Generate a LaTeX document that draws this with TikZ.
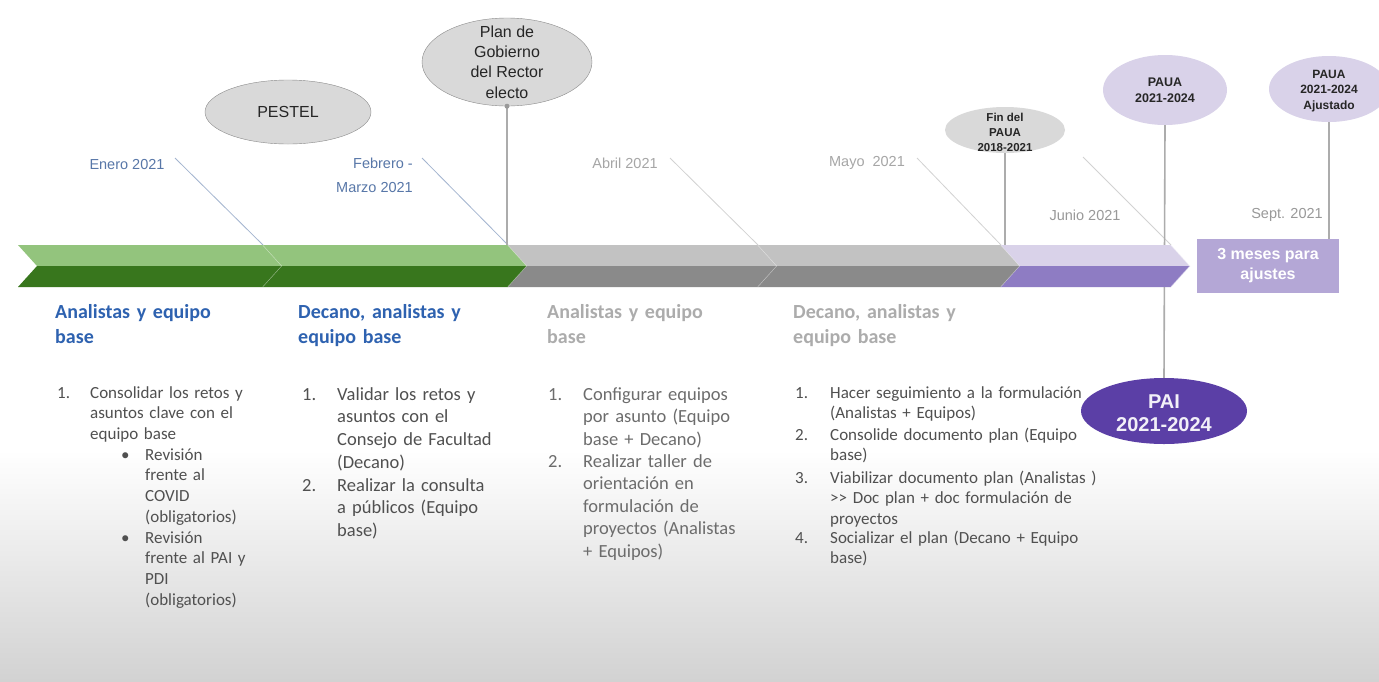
\documentclass[tikz,border=0pt]{standalone}
\usepackage{fontspec}
\setmainfont{Carlito}
\newfontfamily\arialf{Liberation Sans}
\usetikzlibrary{shapes.geometric}

\definecolor{greenL}{HTML}{93C47D}
\definecolor{greenD}{HTML}{38761D}
\definecolor{grayL}{HTML}{C2C2C2}
\definecolor{grayD}{HTML}{8A8A8A}
\definecolor{purpL}{HTML}{D9D2E9}
\definecolor{purpD}{HTML}{8E7CC3}
\definecolor{boxP}{HTML}{B4A7D6}
\definecolor{paiP}{HTML}{5B3FA6}
\definecolor{ovalG}{HTML}{D9D9D9}
\definecolor{titleB}{HTML}{2E62B0}
\definecolor{dateB}{HTML}{5877A8}
\definecolor{txtG}{HTML}{505050}
\definecolor{txtL}{HTML}{6C6C6C}
\definecolor{bgG}{HTML}{D2D2D2}

% one piece of the time band: from x #1 to corner x #2, light and dark colour
\newcommand{\tlseg}[4]{%
  \fill[#3] (#1,245) -- (#2,245) -- (#2+19,266) -- (#1+19,266) -- cycle;
  \fill[#4] (#1+19,266) -- (#2+19,266) -- (#2,287) -- (#1,287) -- cycle;
  \draw[white,opacity=.5,line width=1pt] (#2,245) -- (#2+19,266) -- (#2,287);}

\begin{document}
\begin{tikzpicture}[x=1pt,y=-1pt,
  oval/.style={ellipse,draw=grayD,fill=ovalG,inner sep=0pt},
  lavoval/.style={ellipse,fill=purpL,inner sep=0pt},
  ovaltext/.style={inner sep=0pt,align=center,text=black!85},
  datelbl/.style={inner sep=0pt,font=\arialf\fontsize{14.5}{24}\selectfont},
  datelink/.style={line width=.8pt},
  pin/.style={draw=gray!65,line width=1.6pt},
  coltitle/.style={anchor=base west,inner sep=0pt,text width=260pt,align=left,font=\bfseries\fontsize{20}{25}\selectfont},
  colnum/.style={anchor=base west,inner sep=0pt},
  coltext/.style={anchor=base west,inner sep=0pt,text width=300pt,align=left}]

\useasboundingbox (0,0) rectangle (1379,681);
\fill[white] (0,0) rectangle (1379,681);
\shade[top color=white,bottom color=bgG] (0,450) rectangle (1379,681);

% corners of the band
\coordinate (k1) at (263,245);
\coordinate (k2) at (508,245);
\coordinate (k3) at (758,245);
\coordinate (k4) at (1001,245);
\coordinate (k5) at (1171,245);

% milestones
\node[oval,minimum width=166pt,minimum height=64pt] (pestel) at (288,112) {};
\node[ovaltext,font=\arialf\fontsize{16}{20}\selectfont] at (pestel) {PESTEL};
\node[oval,minimum width=170pt,minimum height=88pt] (plan) at (507,62) {};
\node[ovaltext,font=\arialf\fontsize{16}{20.3}\selectfont] at (plan) {Plan de\\Gobierno\\del Rector\\electo};
\node[oval,draw=none,minimum width=120pt,minimum height=46pt] (finpaua) at (1005,130) {};
\node[ovaltext,font=\arialf\bfseries\fontsize{11.5}{15}\selectfont] at (1005,132) {Fin del\\PAUA\\2018-2021};
\node[lavoval,minimum width=124pt,minimum height=70pt] (paua) at (1165,90) {};
\node[ovaltext,font=\arialf\bfseries\fontsize{12.5}{16}\selectfont] at (paua) {PAUA\\2021-2024};
\node[lavoval,minimum width=120pt,minimum height=66pt] (pauaaj) at (1329,89) {};
\node[ovaltext,font=\arialf\bfseries\fontsize{12}{15.5}\selectfont] at (1329,91) {PAUA\\2021-2024\\Ajustado};
\node[ellipse,fill=paiP,inner sep=0pt,minimum width=166pt,minimum height=66pt] (pai) at (1164,411) {};
\node[ovaltext,text=white!92!paiP,font=\arialf\bfseries\fontsize{20}{23}\selectfont] at (1164,413) {PAI\\2021-2024};
\node[fill=boxP,inner sep=0pt,minimum width=142pt,minimum height=54pt] (ajustes) at (1268,266) {};
\node[ovaltext,text=white,font=\arialf\bfseries\fontsize{16}{20}\selectfont] at (ajustes) {3 meses para\\ajustes};

% dates
\node[datelbl,text=dateB] (enero) at (127,165) {Enero 2021};
\node[datelbl,text=dateB,align=right,anchor=east] (febrero) at (413,175) {Febrero -\\Marzo 2021};
\node[datelbl,text=gray!70] (abril) at (625,163) {Abril 2021};
\node[datelbl,text=gray!70] (mayo) at (867,163) {Mayo\ \ 2021};
\node[datelbl,text=gray!80] (junio) at (1085,215) {Junio 2021};
\node[datelbl,text=gray!80] (sept) at (1287,215) {Sept. 2021};

\coordinate (d1) at (175,158);
\coordinate (d2) at (422,158);
\coordinate (d3) at (670,158);
\coordinate (d4) at (917,158);
\coordinate (d5) at (1083,157);
\draw[datelink,dateB!55] (d1) -- (k1);
\draw[datelink,dateB!55] (d2) -- (k2);
\draw[datelink,gray!35] (d3) -- (k3);
\draw[datelink,gray!35] (d4) -- (k4);
\draw[datelink,gray!35] (d5) -- (k5);

% pins
\draw[pin] (plan.south) -- (plan.south |- k2);
\fill[gray!80] (plan.south) circle (2.5pt);
\draw[pin] (finpaua.south) -- (finpaua.south |- k4);
\draw[pin] (paua.south) -- (pai.north);
\draw[pin] (pauaaj.south) -- (pauaaj.south |- ajustes.north);

% band
\tlseg{18}{263}{greenL}{greenD}
\tlseg{263}{508}{greenL}{greenD}
\tlseg{508}{758}{grayL}{grayD}
\tlseg{758}{1001}{grayL}{grayD}
\tlseg{1001}{1171}{purpL}{purpD}

% column 1
\node[coltitle,text=titleB] (t1) at (55,318) {Analistas y equipo\\base};
\begin{scope}[font=\fontsize{17}{20.8}\selectfont,text=txtG]
\node[colnum] (n11) at (57,398) {1.};
\node[coltext] (c11) at (90,398) {Consolidar los retos y\\asuntos clave con el\\equipo base};
\node[colnum] (b11) at (121,460) {\textbullet};
\node[coltext] (s11) at (145,460) {Revisión\\frente al\\COVID\\(obligatorios)};
\node[colnum] (b12) at (121,543) {\textbullet};
\node[coltext] (s12) at (145,543) {Revisión\\frente al PAI y\\PDI\\(obligatorios)};
\end{scope}

% column 2
\node[coltitle,text=titleB] (t2) at (298,318) {Decano, analistas y\\equipo base};
\begin{scope}[font=\fontsize{18.5}{22.7}\selectfont,text=txtG]
\node[colnum] (n21) at (302,400) {1.};
\node[coltext] (c21) at (337,400) {Validar los retos y\\asuntos con el\\Consejo de Facultad\\(Decano)};
\node[colnum] (n22) at (302,491) {2.};
\node[coltext] (c22) at (337,491) {Realizar la consulta\\a públicos (Equipo\\base)};
\end{scope}

% column 3
\node[coltitle,text=gray!65] (t3) at (547,318) {Analistas y equipo\\base};
\begin{scope}[font=\fontsize{18.5}{22.6}\selectfont,text=txtL]
\node[colnum] (n31) at (548,400) {1.};
\node[coltext] (c31) at (583,400) {Configurar equipos\\por asunto (Equipo\\base + Decano)};
\node[colnum] (n32) at (548,467) {2.};
\node[coltext] (c32) at (583,467) {Realizar taller de\\orientación en\\formulación de\\proyectos (Analistas\\+ Equipos)};
\end{scope}

% column 4
\node[coltitle,text=gray!65] (t4) at (793,318) {Decano, analistas y\\equipo base};
\begin{scope}[font=\fontsize{17}{20.6}\selectfont,text=txtG]
\node[colnum] (n41) at (795,398) {1.};
\node[coltext] (c41) at (830,398) {Hacer seguimiento a la formulación\\(Analistas + Equipos)};
\node[colnum] (n42) at (795,440) {2.};
\node[coltext] (c42) at (830,440) {Consolide documento plan (Equipo\\base)};
\node[colnum] (n43) at (795,483) {3.};
\node[coltext] (c43) at (830,483) {Viabilizar documento plan (Analistas )\\>{}> Doc plan + doc formulación de\\proyectos};
\node[colnum] (n44) at (795,543) {4.};
\node[coltext] (c44) at (830,543) {Socializar el plan (Decano + Equipo\\base)};
\end{scope}
\end{tikzpicture}
\end{document}
